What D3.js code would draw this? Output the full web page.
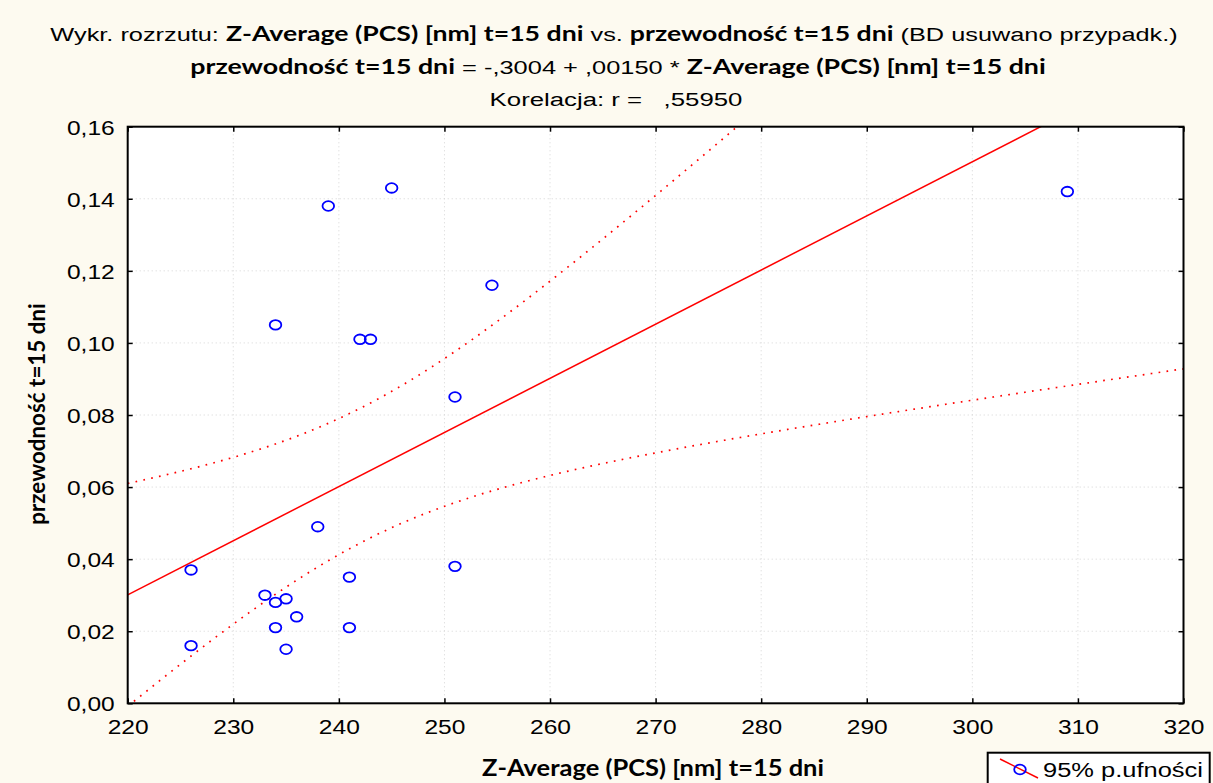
<!DOCTYPE html>
<html lang="pl">
  <head>
    <meta charset="UTF-8" />
    <title>Wykr. rozrzutu</title>
    <script src="https://d3js.org/d3.v7.min.js"></script>
    <style>
      body { margin: 0; background: #fdfaf0; }
      svg { display: block; }
      .reg { font-family: "Liberation Sans", Arial, sans-serif; }
      .bold { font-family: Lato, "Open Sans", sans-serif; font-weight: 700; }
    </style>
  </head>
  <body>
    <div id="chart"></div>
    <script>
      // Z-Average (PCS) [nm] t=15 dni
      const zAverage = [226, 226, 233, 234, 235, 234, 236, 235, 238, 241,
        241, 251, 251, 234, 239, 245, 242, 243, 254.5, 309];
      // przewodność t=15 dni
      const przewodnosc = [0.037, 0.016, 0.030, 0.028, 0.029, 0.021, 0.024, 0.015, 0.049, 0.035,
        0.021, 0.038, 0.085, 0.105, 0.138, 0.143, 0.101, 0.101, 0.116, 0.142];

      const xTicks = [220, 230, 240, 250, 260, 270, 280, 290, 300, 310, 320];
      const yTicks = [0, 0.02, 0.04, 0.06, 0.08, 0.10, 0.12, 0.14, 0.16];

      const width = 1213;
      const height = 783;
      const margin = { top: 126.7, right: 29.5, bottom: 79.7, left: 127.7 };
      const stretch = 1.17; // the original is drawn a bit wide
      const fmt = (d) => d3.format('.2f')(d).replace('.', ',');

      const svg = d3
        .select('#chart')
        .append('svg')
        .attr('width', width)
        .attr('height', height);

      const x = d3.scaleLinear().domain([220, 320]).range([margin.left, width - margin.right]);
      const y = d3.scaleLinear().domain([0, 0.16]).range([height - margin.bottom, margin.top]);

      // regression + 95% confidence band
      const n = zAverage.length;
      const mx = d3.mean(zAverage);
      const my = d3.mean(przewodnosc);
      let sxx = 0, sxy = 0;
      zAverage.forEach((v, i) => {
        sxx += (v - mx) * (v - mx);
        sxy += (v - mx) * (przewodnosc[i] - my);
      });
      const slope = sxy / sxx;
      const intercept = my - slope * mx;
      let sse = 0;
      zAverage.forEach((v, i) => {
        const r = przewodnosc[i] - (intercept + slope * v);
        sse += r * r;
      });
      const s = Math.sqrt(sse / (n - 2));
      const tCrit = 2.1009; // df = 18

      const xs = d3.range(220, 320.5, 0.5);
      const band = (sign) =>
        xs.map((v) => [
          v,
          intercept + slope * v +
            sign * tCrit * s * Math.sqrt(1 / n + ((v - mx) * (v - mx)) / sxx),
        ]);

      svg
        .append('defs')
        .append('clipPath')
        .attr('id', 'clip')
        .append('rect')
        .attr('x', x(220))
        .attr('y', y(0.16))
        .attr('width', x(320) - x(220))
        .attr('height', y(0) - y(0.16));

      svg
        .append('rect')
        .attr('x', x(220))
        .attr('y', y(0.16))
        .attr('width', x(320) - x(220))
        .attr('height', y(0) - y(0.16))
        .attr('fill', '#ffffff');

      // grid
      const grid = svg.append('g').attr('stroke', '#d4d4d4').attr('stroke-dasharray', '1,3');
      grid
        .selectAll('.gx')
        .data(xTicks.slice(1, -1))
        .enter()
        .append('line')
        .attr('x1', (d) => x(d))
        .attr('x2', (d) => x(d))
        .attr('y1', y(0))
        .attr('y2', y(0.16));
      grid
        .selectAll('.gy')
        .data(yTicks.slice(1, -1))
        .enter()
        .append('line')
        .attr('x1', x(220))
        .attr('x2', x(320))
        .attr('y1', (d) => y(d))
        .attr('y2', (d) => y(d));

      const line = d3.line().x((d) => x(d[0])).y((d) => y(d[1]));
      const plot = svg.append('g').attr('clip-path', 'url(#clip)');

      [band(1), band(-1)].forEach((b) => {
        plot
          .append('path')
          .attr('d', line(b))
          .attr('fill', 'none')
          .attr('stroke', '#ff0000')
          .attr('stroke-width', 1.7)
          .attr('stroke-dasharray', '1.7,6.3');
      });

      plot
        .append('path')
        .attr('d', line([[220, intercept + slope * 220], [320, intercept + slope * 320]]))
        .attr('fill', 'none')
        .attr('stroke', '#ff0000')
        .attr('stroke-width', 1.5);

      plot
        .selectAll('ellipse')
        .data(zAverage)
        .enter()
        .append('ellipse')
        .attr('cx', (d) => x(d))
        .attr('cy', (d, i) => y(przewodnosc[i]))
        .attr('rx', 5.8)
        .attr('ry', 4.8)
        .attr('fill', 'none')
        .attr('stroke', '#0000ff')
        .attr('stroke-width', 1.8);

      // frame + inward ticks
      svg
        .append('rect')
        .attr('x', x(220))
        .attr('y', y(0.16))
        .attr('width', x(320) - x(220))
        .attr('height', y(0) - y(0.16))
        .attr('fill', 'none')
        .attr('stroke', '#000')
        .attr('stroke-width', 2);

      const axB = svg.append('g').attr('transform', `translate(0,${y(0)})`)
        .call(d3.axisBottom(x).tickValues(xTicks).tickSize(-5).tickFormat(d3.format('d')));
      const axT = svg.append('g').attr('transform', `translate(0,${y(0.16)})`)
        .call(d3.axisTop(x).tickValues(xTicks).tickSize(-5).tickFormat(''));
      const axL = svg.append('g').attr('transform', `translate(${x(220)},0)`)
        .call(d3.axisLeft(y).tickValues(yTicks).tickSize(-5).tickFormat(fmt));
      const axR = svg.append('g').attr('transform', `translate(${x(320)},0)`)
        .call(d3.axisRight(y).tickValues(yTicks).tickSize(-5).tickFormat(''));

      [axB, axT, axL, axR].forEach((a) => {
        a.select('.domain').remove();
        a.selectAll('line').attr('stroke', '#000').attr('stroke-width', 1.5);
        a.selectAll('text')
          .attr('class', 'reg')
          .attr('font-size', 21)
          .attr('fill', '#000');
      });
      axB.selectAll('text').attr('dy', null).attr('y', 0)
        .attr('transform', `translate(0,31) scale(${stretch},1)`);
      axL.selectAll('text').attr('x', 0).attr('dy', '0.36em')
        .attr('transform', `translate(-13,0) scale(${stretch},1)`);

      // squeeze / widen a text to the width it has in the original
      function fit(t, cx, baseline, w) {
        t.attr('text-anchor', 'middle').attr('x', 0).attr('y', 0);
        const bw = t.node().getBBox().width;
        t.attr('transform', `translate(${cx},${baseline}) scale(${w / bw},1)`);
      }

      // titles
      const t1 = svg.append('text').attr('font-size', 19).attr('fill', '#000');
      t1.append('tspan').attr('class', 'reg').text('Wykr. rozrzutu: ');
      t1.append('tspan').attr('class', 'bold').attr('font-size', 20).text('Z-Average (PCS) [nm] t=15 dni');
      t1.append('tspan').attr('class', 'reg').text(' vs. ');
      t1.append('tspan').attr('class', 'bold').attr('font-size', 20).text('przewodność t=15 dni');
      t1.append('tspan').attr('class', 'reg').text(' (BD usuwano przypadk.)');
      fit(t1, 614, 41, 1128);

      const t2 = svg.append('text').attr('font-size', 19).attr('fill', '#000');
      t2.append('tspan').attr('class', 'bold').attr('font-size', 20).text('przewodność t=15 dni');
      t2.append('tspan').attr('class', 'reg').text(' = -,3004 + ,00150 * ');
      t2.append('tspan').attr('class', 'bold').attr('font-size', 20).text('Z-Average (PCS) [nm] t=15 dni');
      fit(t2, 618, 73.5, 856);

      const t3 = svg.append('text').attr('class', 'reg').attr('font-size', 19)
        .style('white-space', 'pre').text('Korelacja: r =   ,55950');
      fit(t3, 616, 106, 253);

      const xt = svg.append('text').attr('class', 'bold').attr('font-size', 22)
        .text('Z-Average (PCS) [nm] t=15 dni');
      fit(xt, 653, 776, 342);

      svg.append('text').attr('class', 'bold').attr('text-anchor', 'middle').attr('font-size', 22.4)
        .attr('transform', `translate(45,${(y(0) + y(0.16)) / 2 - 1}) rotate(-90)`)
        .text('przewodność t=15 dni');

      // legend
      const lg = svg.append('g');
      lg.append('rect').attr('x', 987.7).attr('y', 752.7).attr('width', 222).attr('height', 40)
        .attr('fill', '#fff').attr('stroke', '#000').attr('stroke-width', 2);
      lg.append('line').attr('x1', 1000).attr('y1', 759).attr('x2', 1038).attr('y2', 778)
        .attr('stroke', '#ff0000').attr('stroke-width', 1.5);
      lg.append('ellipse').attr('cx', 1020).attr('cy', 769.5).attr('rx', 5.8).attr('ry', 4.8)
        .attr('fill', 'none').attr('stroke', '#0000ff').attr('stroke-width', 1.8);
      const lt = svg.append('text').attr('class', 'reg').attr('font-size', 21)
        .text('95% p.ufności');
      fit(lt, 1123, 777, 160);
    </script>
  </body>
</html>
